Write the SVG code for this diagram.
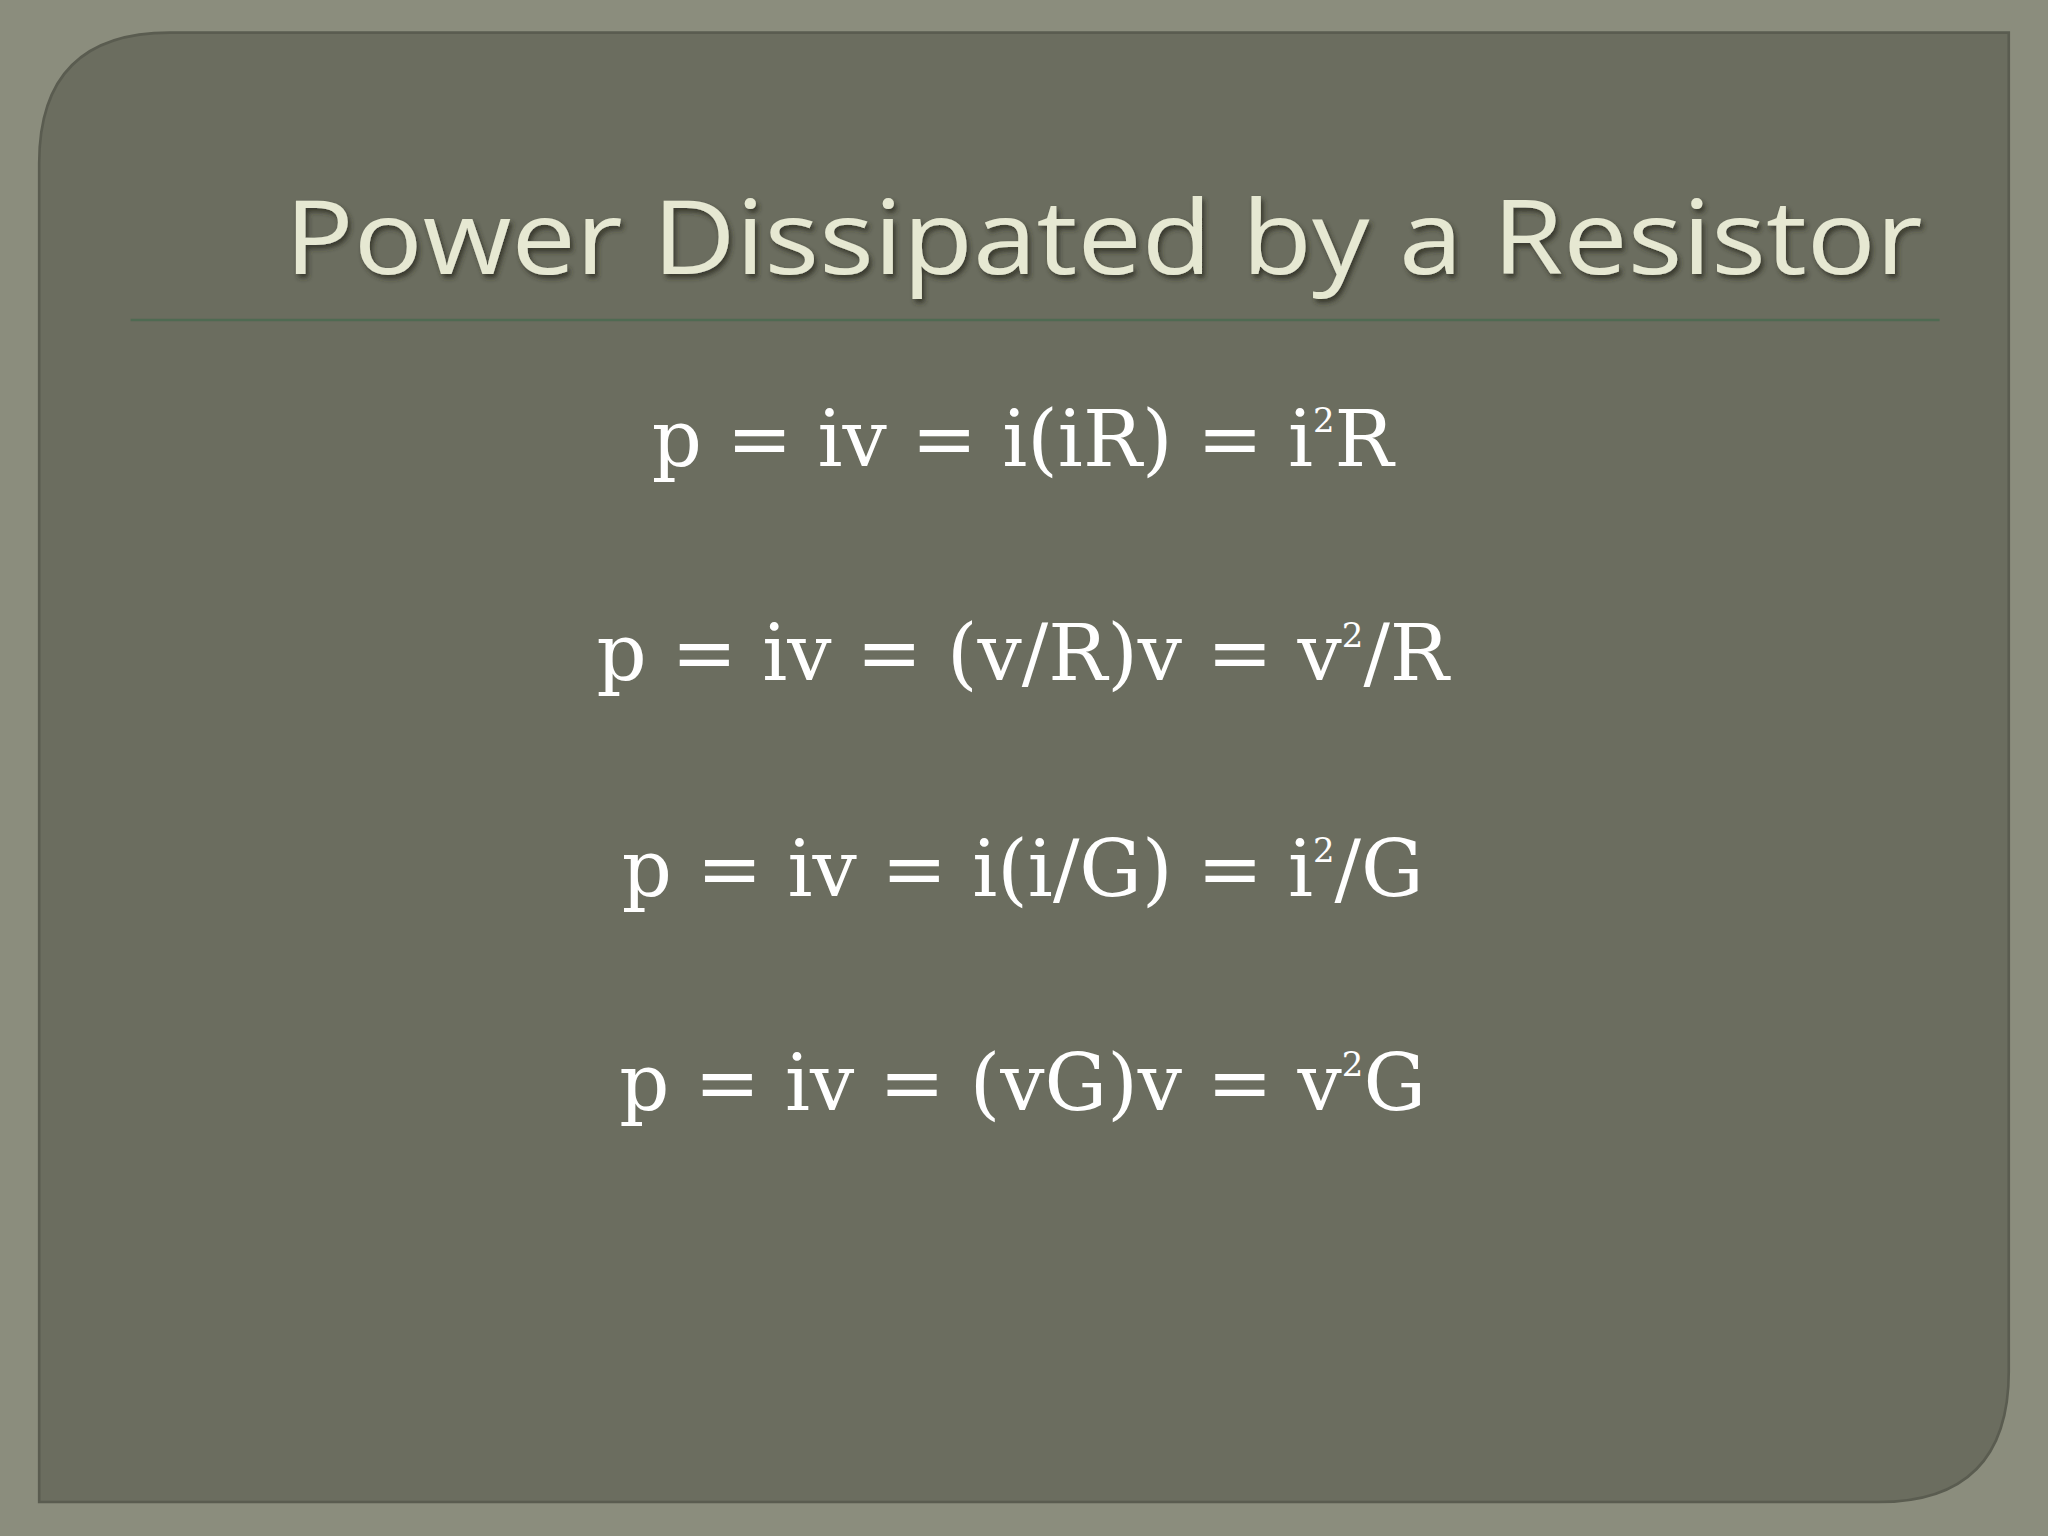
<svg xmlns="http://www.w3.org/2000/svg" width="2048" height="1536" viewBox="0 0 2048 1536">
<style>
.eq{font-family:"DejaVu Serif",serif;font-size:60px;fill:#ffffff;text-anchor:middle}
.sup{font-size:26px}
.title{font-family:"Open Sans","Liberation Sans",sans-serif;font-size:78px;fill:#e6e8d2}
</style>
<defs>
<filter id="sh" x="-5%" y="-20%" width="110%" height="140%">
<feDropShadow dx="2" dy="3" stdDeviation="2" flood-color="#2a2c22" flood-opacity="0.8"/>
</filter>
</defs>
<rect width="2048" height="1536" fill="#8b8d7d"/>
<g transform="scale(1.3061)">
<path d="M130,25 H1538 V1050 Q1538,1150 1438,1150 H30 V125 Q30,25 130,25 Z" fill="#6b6d5f" stroke="#5a5c50" stroke-width="2"/>
<g id="title">
<text class="title" x="218" y="210" textLength="1254" lengthAdjust="spacingAndGlyphs" filter="url(#sh)">Power Dissipated by a Resistor</text>
<line x1="100" y1="245" x2="1485" y2="245" stroke="#4f6a52" stroke-width="2"/>
</g>
<g id="eq1"><text class="eq" x="783" y="357">p = iv = i(iR) = i<tspan class="sup" dy="-26">2</tspan><tspan dy="26">R</tspan></text></g>
<g id="eq2"><text class="eq" x="783" y="521">p = iv = (v/R)v = v<tspan class="sup" dy="-26">2</tspan><tspan dy="26">/R</tspan></text></g>
<g id="eq3"><text class="eq" x="783" y="686">p = iv = i(i/G) = i<tspan class="sup" dy="-26">2</tspan><tspan dy="26">/G</tspan></text></g>
<g id="eq4"><text class="eq" x="783" y="850">p = iv = (vG)v = v<tspan class="sup" dy="-26">2</tspan><tspan dy="26">G</tspan></text></g>
</g>
</svg>
